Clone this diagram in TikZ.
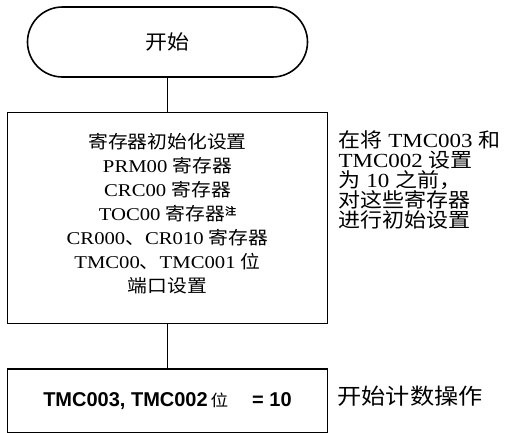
\documentclass[tikz,border=0pt]{standalone}
\usepackage{fontspec}
\setmainfont{Liberation Serif}[FakeStretch=1.15]
\newfontfamily\cjk{Noto Sans CJK SC}[FakeStretch=1.1,AutoFakeBold=2]
\newfontfamily\arialfont{Liberation Sans}
\newcommand{\zh}[1]{{\cjk #1}}
\usetikzlibrary{positioning}

\begin{document}
\begin{tikzpicture}[
    x=1pt, y=1pt,
    terminal/.style={
        draw,
        line width=1.6pt,
        rounded corners=35pt,
        minimum width=280pt,
        minimum height=70pt,
        font=\fontsize{20}{24}\selectfont
    },
    block/.style={
        draw,
        line width=1.6pt,
        minimum width=320pt,
        align=center,
        inner sep=0pt
    },
    link/.style={line width=0.8pt},
    note/.style={align=left, inner sep=0pt}
]

\useasboundingbox (0,0) rectangle (507,-432);

\node[terminal] (start) at (167.5,-42) {\zh{开始}};

\node[block, minimum height=211pt, below=34pt of start,
      font=\fontsize{18}{24}\selectfont] (init)
    {\zh{寄存器初始化设置}\\
     PRM00 \zh{寄存器}\\
     CRC00 \zh{寄存器}\\
     TOC00 \zh{寄存器}\raisebox{6pt}{\fontsize{10}{10}\selectfont\zh{\bfseries 注}}\\
     CR000\zh{、}CR010 \zh{寄存器}\\
     TMC00\zh{、}TMC001 \zh{位}\\
     \zh{端口设置}\rule[-10pt]{0pt}{0pt}};

\node[block, minimum height=64pt, below=44pt of init] (count)
    {{\arialfont\bfseries\fontsize{20}{24}\selectfont TMC003, TMC002}
     \zh{\fontsize{16}{20}\selectfont 位}\hspace{24pt}%
     {\arialfont\bfseries\fontsize{20}{24}\selectfont = 10}};

\draw[link] (start) -- (init);
\draw[link] (init) -- (count);

% side notes
\node[note, below right=19pt and 10pt of init.north east,
      font=\fontsize{20}{20}\selectfont] (initnote)
    {\zh{在将} TMC003 \zh{和}\\
     TMC002 \zh{设置}\\
     \zh{为} 10 \zh{之前，}\\
     \zh{对这些寄存器}\\
     \zh{进行初始设置}};

\node[note, right=9pt of count, yshift=5pt,
      font=\fontsize{22}{24}\selectfont] (countnote) {\zh{开始计数操作}};

\end{tikzpicture}
\end{document}
